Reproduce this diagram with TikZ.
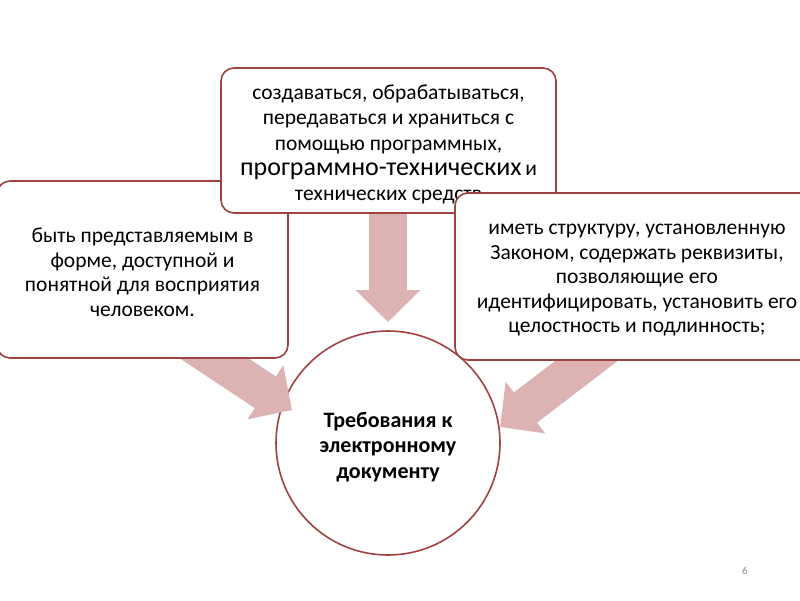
\documentclass[tikz,border=0pt]{standalone}
\usepackage{fontspec}
\setmainfont{Carlito}
\usetikzlibrary{arrows.meta}
\definecolor{bord}{RGB}{160,66,66}
\definecolor{arrfill}{RGB}{220,178,178}
\definecolor{pgnum}{RGB}{140,140,140}
\tikzset{
  box/.style={draw=bord, line width=1.6pt, fill=white, rounded corners=13pt, inner sep=0pt},
  boxtext/.style={align=center, inner sep=0pt, font=\fontsize{21.5}{24.5}\selectfont},
  circ/.style={draw=bord, line width=1.6pt, fill=white, circle, inner sep=0pt},
  circtext/.style={align=center, inner sep=0pt, font=\fontsize{22}{25.5}\selectfont\bfseries},
  blockarrow/.style={draw=arrfill, line width=38pt, -{Triangle[length=32pt,width=63pt]}},
}
\begin{document}
\begin{tikzpicture}[x=1pt,y=-1pt]
\useasboundingbox (0,0) rectangle (800,600);
% central circle
\node[circ, minimum size=224pt] (c) at (388,443) {};
\node[circtext] (ctext) at (388,447) {Требования к\\электронному\\документу};
% arrows
\coordinate (ls) at (167,327);
\coordinate (lt) at (292,410);
\coordinate (ts) at (388,200);
\coordinate (tt) at (388,322);
\coordinate (rs) at (619,336);
\coordinate (rt) at (500,427);
\draw[blockarrow] (ls) -- (lt);
\draw[blockarrow] (ts) -- (tt);
\draw[blockarrow] (rs) -- (rt);
% left box
\node[box, minimum width=291pt, minimum height=177pt] (l) at (142.5,269.5) {};
\node[boxtext] (ltext) at (142.5,272.5)
  {быть представляемым в\\форме, доступной и\\понятной для восприятия\\человеком.};
% top box
\node[box, minimum width=335pt, minimum height=145pt] (t) at (388.5,140.5) {};
\node[boxtext, font=\fontsize{21.5}{25.3}\selectfont] (ttext) at (388.5,144.5)
  {создаваться, обрабатываться,\\передаваться и храниться с\\помощью программных,\\{\fontsize{26}{25.3}\selectfont программно-технических}\,и\\технических средств};
% right box
\node[box, minimum width=364pt, minimum height=167pt] (r) at (637,276.5) {};
\node[boxtext] (rtext) at (637,280.5)
  {иметь структуру, установленную\\Законом, содержать реквизиты,\\позволяющие его\\идентифицировать, установить его\\целостность и подлинность;};
% page number
\node[text=pgnum, font=\fontsize{11}{13}\selectfont] (pn) at (745,571) {6};
\end{tikzpicture}
\end{document}
